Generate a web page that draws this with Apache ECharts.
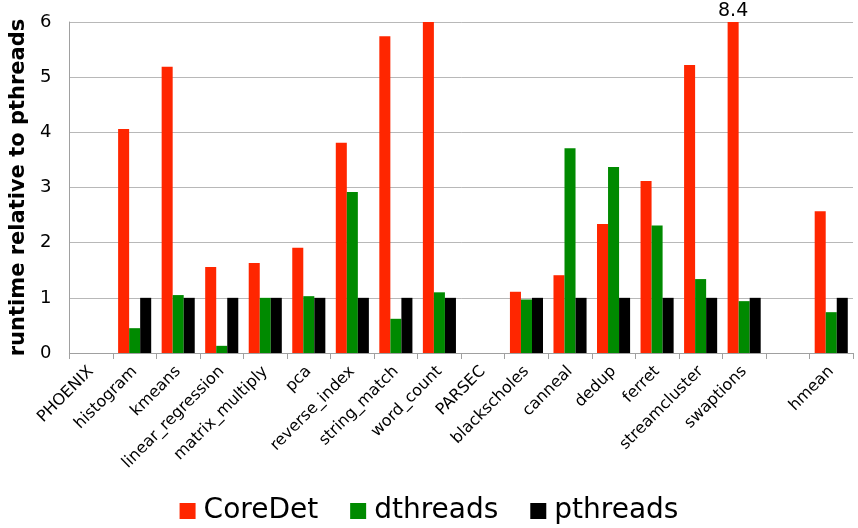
<!DOCTYPE html>
<html><head><meta charset="utf-8">
<script src="https://cdn.jsdelivr.net/npm/echarts@6/dist/echarts.min.js"></script>
<style>html,body{margin:0;padding:0;background:#fff}#c{width:858px;height:528px}</style>
</head><body><div id="c"></div>
<script>
const categories = ['PHOENIX','histogram','kmeans','linear_regression','matrix_multiply','pca','reverse_index','string_match','word_count','PARSEC','blackscholes','canneal','dedup','ferret','streamcluster','swaptions','','hmean'];
const coreDet  = [null,4.06,5.19,1.56,1.63,1.91,3.81,5.74,6.0,null,1.11,1.41,2.34,3.12,5.22,8.4,null,2.57];
const dthreads = [null,0.45,1.05,0.13,1.0,1.03,2.92,0.62,1.1,null,0.97,3.71,3.37,2.31,1.34,0.94,null,0.74];
const pthreads = [null,1,1,1,1,1,1,1,1,null,1,1,1,1,1,1,null,1];
const yTicks = [0,1,2,3,4,5,6];
const FONT = 'DejaVu Sans';
const chart = echarts.init(document.getElementById('c'), null, {renderer:'canvas'});
chart.setOption({
  animation:false,
  textStyle:{fontFamily:FONT},
  grid:{left:68,right:5,top:22,bottom:175,containLabel:false},
  legend:{
    bottom:-2,left:'center',
    itemWidth:16,itemHeight:16,itemGap:32,icon:'rect',
    textStyle:{fontFamily:FONT,fontSize:28,color:'#000',padding:[0,0,0,3]},
    data:['CoreDet','dthreads','pthreads']
  },
  xAxis:{
    type:'category',data:categories,
    axisLine:{lineStyle:{color:'#a0a0a0'}},
    axisTick:{show:true,alignWithLabel:false,length:6,lineStyle:{color:'#a0a0a0'}},
    axisLabel:{rotate:45,interval:0,fontSize:16,color:'#000',fontFamily:FONT,margin:16}
  },
  yAxis:{
    type:'value',min:yTicks[0],max:yTicks[yTicks.length-1],interval:1,
    name:'runtime relative to pthreads',nameLocation:'middle',nameGap:38,
    nameTextStyle:{fontFamily:FONT,fontSize:21,fontWeight:'bold',color:'#000'},
    axisLine:{show:true,lineStyle:{color:'#a0a0a0'}},
    axisTick:{show:false},
    splitLine:{lineStyle:{color:'#b8b8b8',width:1}},
    axisLabel:{fontSize:18,color:'#000',fontFamily:FONT,margin:18}
  },
  series:[
    {name:'CoreDet',type:'bar',data:coreDet.map((v,i)=> v>6 ? {value:v,label:{show:true,position:'top',distance:1,formatter:String(v),fontSize:19,color:'#000',fontFamily:FONT}} : v),
     itemStyle:{color:'#ff2600'},barGap:'0%',barCategoryGap:'24%',clip:true},
    {name:'dthreads',type:'bar',data:dthreads,itemStyle:{color:'#008a00'},barGap:'0%',barCategoryGap:'24%'},
    {name:'pthreads',type:'bar',data:pthreads,itemStyle:{color:'#000000'},barGap:'0%',barCategoryGap:'24%'}
  ]
});
</script></body></html>
